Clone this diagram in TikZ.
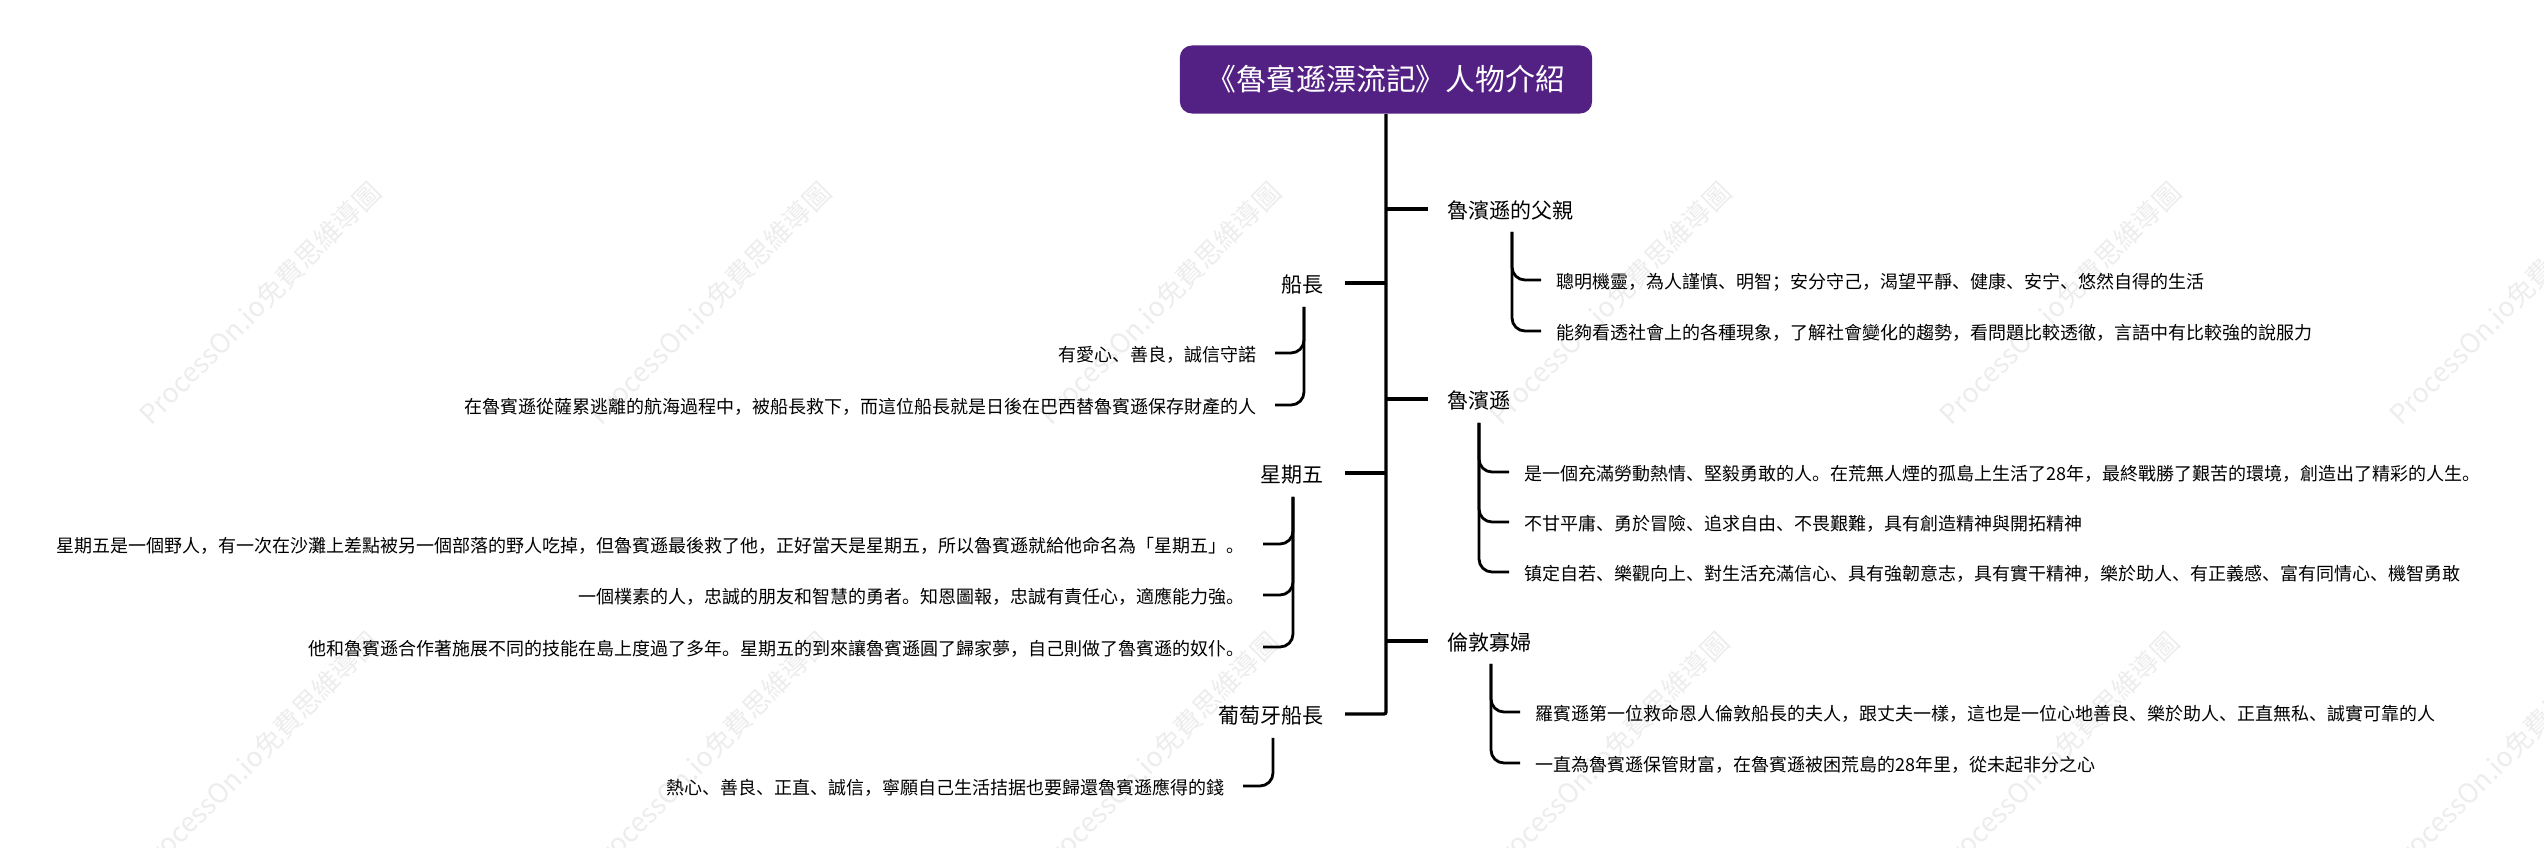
\documentclass[tikz,border=0pt]{standalone}
\usepackage{fontspec}
\setmainfont{Noto Sans CJK SC}
\usepackage{tikz}
\usetikzlibrary{positioning}
\definecolor{titlepurple}{HTML}{532184}
\definecolor{wmgray}{HTML}{EDEDED}
\tikzset{
  titlebox/.style={fill=titlepurple,rounded corners=.12cm,minimum width=4.12cm,minimum height=.68cm,inner sep=0pt,text=white,font=\fontsize{8.5pt}{10pt}\selectfont},
  topicr/.style={anchor=west,inner xsep=.19cm,inner ysep=0pt,text height=5.3pt,text depth=0pt,font=\fontsize{5.97pt}{7pt}\selectfont},
  topicl/.style={topicr,anchor=east,inner xsep=.21cm},
  leafr/.style={anchor=west,inner xsep=.145cm,inner ysep=0pt,text height=4.7pt,text depth=0pt,font=\fontsize{5.12pt}{6pt}\selectfont},
  leafl/.style={leafr,anchor=east,inner xsep=.175cm},
  wmark/.style={rotate=45,text=wmgray,inner sep=0pt,font=\fontsize{7.7pt}{9pt}\selectfont},
  trunk/.style={line width=.95pt,rounded corners=.02cm},
  spine/.style={line width=.8pt,rounded corners=.13cm},
}
\begin{document}
\begin{tikzpicture}[x=.01cm,y=-.01cm]
\useasboundingbox (0,0) rectangle (2544,864);

% Watermarks
\begin{scope}
\clip (0,0) rectangle (2544,848);
\node[wmark] (w1) at (260,303) {ProcessOn.io免費思維導圖};
\node[wmark] (w2) at (710,303) {ProcessOn.io免費思維導圖};
\node[wmark] (w3) at (1160,303) {ProcessOn.io免費思維導圖};
\node[wmark] (w4) at (1610,303) {ProcessOn.io免費思維導圖};
\node[wmark] (w5) at (2060,303) {ProcessOn.io免費思維導圖};
\node[wmark] (w6) at (2510,303) {ProcessOn.io免費思維導圖};
\node[wmark] (w7) at (258,753) {ProcessOn.io免費思維導圖};
\node[wmark] (w8) at (708,753) {ProcessOn.io免費思維導圖};
\node[wmark] (w9) at (1158,753) {ProcessOn.io免費思維導圖};
\node[wmark] (w10) at (1608,753) {ProcessOn.io免費思維導圖};
\node[wmark] (w11) at (2058,753) {ProcessOn.io免費思維導圖};
\node[wmark] (w12) at (2508,753) {ProcessOn.io免費思維導圖};
\end{scope}

% Title
\node[titlebox] (title) at (1386,79.5) {《魯賓遜漂流記》人物介紹};

% Main topics
\node[topicr] (father) at (1428,209) {魯濱遜的父親};
\node[topicl] (captain) at (1345,283) {船長};
\node[topicr] (crusoe) at (1428,399) {魯濱遜};
\node[topicl] (friday) at (1345,473) {星期五};
\node[topicr] (widow) at (1428,641) {倫敦寡婦};
\node[topicl] (portuguese) at (1345,714) {葡萄牙船長};

% Main trunk
\draw[trunk] (title.south) |- (portuguese.east);
\draw[trunk] (father.west) -- (father.west -| title.south);
\draw[trunk] (captain.east) -- (captain.east -| title.south);
\draw[trunk] (crusoe.west) -- (crusoe.west -| title.south);
\draw[trunk] (friday.east) -- (friday.east -| title.south);
\draw[trunk] (widow.west) -- (widow.west -| title.south);

% Father
\coordinate (fathertop) at (1512,232);
\node[leafr] (fatherA) at (1541,280) {聰明機靈，為人謹慎、明智；安分守己，渴望平靜、健康、安宁、悠然自得的生活};
\node[leafr] (fatherB) at (1541,331) {能夠看透社會上的各種現象，了解社會變化的趨勢，看問題比較透徹，言語中有比較強的說服力};
\draw[spine] (fathertop) |- (fatherA.west);
\draw[spine] (fathertop) |- (fatherB.west);

% Captain
\coordinate (captaintop) at (1304,307);
\node[leafl] (captainA) at (1275,353) {有愛心、善良，誠信守諾};
\node[leafl] (captainB) at (1275,405) {在魯賓遜從薩累逃離的航海過程中，被船長救下，而這位船長就是日後在巴西替魯賓遜保存財產的人};
\draw[spine] (captaintop) |- (captainA.east);
\draw[spine] (captaintop) |- (captainB.east);

% Crusoe
\coordinate (crusoetop) at (1479,423);
\node[leafr] (crusoeA) at (1509,472) {是一個充滿勞動熱情、堅毅勇敢的人。在荒無人煙的孤島上生活了28年，最終戰勝了艱苦的環境，創造出了精彩的人生。};
\node[leafr] (crusoeB) at (1509,522) {不甘平庸、勇於冒險、追求自由、不畏艱難，具有創造精神與開拓精神};
\node[leafr] (crusoeC) at (1509,572) {镇定自若、樂觀向上、對生活充滿信心、具有強韌意志，具有實干精神，樂於助人、有正義感、富有同情心、機智勇敢};
\draw[spine] (crusoetop) |- (crusoeA.west);
\draw[spine] (crusoetop) |- (crusoeB.west);
\draw[spine] (crusoetop) |- (crusoeC.west);

% Friday
\coordinate (fridaytop) at (1293,497);
\node[leafl] (fridayA) at (1263,544) {星期五是一個野人，有一次在沙灘上差點被另一個部落的野人吃掉，但魯賓遜最後救了他，正好當天是星期五，所以魯賓遜就給他命名為「星期五」。};
\node[leafl] (fridayB) at (1263,595) {一個樸素的人，忠誠的朋友和智慧的勇者。知恩圖報，忠誠有責任心，適應能力強。};
\node[leafl] (fridayC) at (1263,647) {他和魯賓遜合作著施展不同的技能在島上度過了多年。星期五的到來讓魯賓遜圓了歸家夢，自己則做了魯賓遜的奴仆。};
\draw[spine] (fridaytop) |- (fridayA.east);
\draw[spine] (fridaytop) |- (fridayB.east);
\draw[spine] (fridaytop) |- (fridayC.east);

% Widow
\coordinate (widowtop) at (1491,664);
\node[leafr] (widowA) at (1520,712) {羅賓遜第一位救命恩人倫敦船長的夫人，跟丈夫一樣，這也是一位心地善良、樂於助人、正直無私、誠實可靠的人};
\node[leafr] (widowB) at (1520,763) {一直為魯賓遜保管財富，在魯賓遜被困荒島的28年里，從未起非分之心};
\draw[spine] (widowtop) |- (widowA.west);
\draw[spine] (widowtop) |- (widowB.west);

% Portuguese captain
\coordinate (portuguesetop) at (1273,738);
\node[leafl] (portugueseA) at (1243,786) {熱心、善良、正直、誠信，寧願自己生活拮据也要歸還魯賓遜應得的錢};
\draw[spine] (portuguesetop) |- (portugueseA.east);

\end{tikzpicture}
\end{document}
